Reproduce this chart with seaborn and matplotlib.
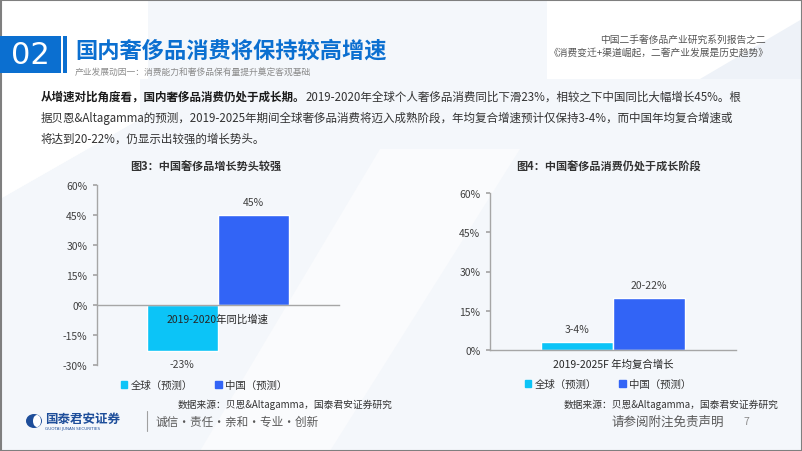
import matplotlib
matplotlib.use("Agg")
import matplotlib.pyplot as plt
import matplotlib.patches as mpatches
from matplotlib.patches import Polygon, Rectangle, Ellipse
import seaborn as sns
import pandas as pd

sns.set_theme(style="white")
plt.rcParams['font.family'] = ['Noto Sans CJK SC', 'DejaVu Sans']

# ---------------- data ----------------
series = ["全球（预测）", "中国（预测）"]
c1_category = ["2019-2020年同比增速"]
c1_values = [-23, 45]
c1_labels = ["-23%", "45%"]
c2_category = ["2019-2025F 年均复合增长"]
c2_values = [3, 20]
c2_labels = ["3-4%", "20-22%"]
c1_ticks = [-30, -15, 0, 15, 30, 45, 60]
c2_ticks = [0, 15, 30, 45, 60]

colors = ["#0CC4F7", "#3264F6"]
W, H = 802, 452
fig = plt.figure(figsize=(W / 100, H / 100), dpi=100)
fig.patch.set_facecolor("white")

def px(x, y):
    return x / W, 1 - y / H

# background decorations
bg = fig.add_axes([0, 0, 1, 1])
bg.set_xlim(0, W); bg.set_ylim(H, 0); bg.axis("off")
light = "#F4F7FB"
bg.add_patch(Polygon([[148, 0], [547, 0], [547, 80], [148, 80]], closed=True, color=light, lw=0))
bg.add_patch(Polygon([[140, 80], [802, 80], [802, 452], [0, 452], [0, 200], [140, 120]], closed=True, color=light, lw=0))
bg.add_patch(Polygon([[380, 150], [520, 150], [330, 452], [200, 452]], closed=True, color="#FAFBFD", lw=0))
bg.add_patch(Polygon([[0, 80], [140, 80], [140, 120], [0, 200]], closed=True, color="white", lw=0))
bg.add_patch(Polygon([[700, 80], [802, 20], [802, 80]], closed=True, color="#EEF2F8", lw=0))
# frame
bg.add_patch(Rectangle((0.5, 0.5), W - 1, H - 1, fill=False, ec="#7F7F7F", lw=1.5))

# header
bg.add_patch(Rectangle((0, 37), 61, 37, color="#0B6FD0", lw=0))
bg.add_patch(Rectangle((63, 37), 3.5, 37, color="#0B6FD0", lw=0))
fig.text(*px(30, 56), "02", color="white", fontsize=22, ha="center", va="center", family="DejaVu Sans")
fig.text(*px(75, 51), "国内奢侈品消费将保持较高增速", color="#0B6FD0", fontsize=16, fontweight="bold", ha="left", va="center")
fig.text(*px(75, 73), "产业发展动因一：消费能力和奢侈品保有量提升奠定客观基础", color="#8C8C8C", fontsize=6.3, ha="left", va="center")
fig.text(*px(766, 40), "中国二手奢侈品产业研究系列报告之二", color="#555555", fontsize=7, ha="right", va="center")
fig.text(*px(769, 53), "《消费变迁+渠道崛起，二奢产业发展是历史趋势》", color="#555555", fontsize=7, ha="right", va="center")

# paragraph
fs_p = 8.3
fig.canvas.draw()
r = fig.canvas.get_renderer()
t_b = fig.text(*px(41, 97), "从增速对比角度看，国内奢侈品消费仍处于成长期。", color="#1A1A1A", fontsize=fs_p, fontweight="bold", ha="left", va="center")
bb = t_b.get_window_extent(renderer=r)
fig.text(bb.x1 / W, 1 - 97 / H, "2019-2020年全球个人奢侈品消费同比下滑23%，相较之下中国同比大幅增长45%。根", color="#333333", fontsize=fs_p, ha="left", va="center")
fig.text(*px(41, 118), "据贝恩&Altagamma的预测，2019-2025年期间全球奢侈品消费将迈入成熟阶段，年均复合增速预计仅保持3-4%，而中国年均复合增速或", color="#333333", fontsize=fs_p, ha="left", va="center")
fig.text(*px(41, 139), "将达到20-22%，仍显示出较强的增长势头。", color="#333333", fontsize=fs_p, ha="left", va="center")

def make_chart(rect, cats, vals, labels, ticks, ylim, width, title, title_xy, leg_xy, src_xy, label_off):
    l, t, r_, b = rect
    ax = fig.add_axes([l / W, 1 - b / H, (r_ - l) / W, (b - t) / H])
    ax.patch.set_alpha(0)
    df = pd.DataFrame({"cat": cats * len(series), "series": series, "val": vals})
    sns.barplot(data=df, x="cat", y="val", hue="series", palette=colors, width=width,
                gap=0, saturation=1, ax=ax, legend=False)
    ax.set_axisbelow(False)
    ax.set_xlim(-0.5, 0.5)
    ax.set_ylim(*ylim)
    ax.set_yticks(ticks)
    ax.set_yticklabels([f"{v}%" for v in ticks])
    ax.set_xlabel(""); ax.set_ylabel("")
    for s in ["top", "right"]:
        ax.spines[s].set_visible(False)
    for s in ["left", "bottom"]:
        ax.spines[s].set_color("#A6A6A6"); ax.spines[s].set_linewidth(1)
    ax.spines["bottom"].set_position(("data", 0))
    ax.tick_params(axis="y", length=3, color="#A6A6A6", labelsize=7.5, labelcolor="#404040", pad=4, left=True)
    ax.tick_params(axis="x", length=0, labelsize=7.5, labelcolor="#262626", pad=6)
    for cont, lab in zip(ax.containers, labels):
        for bar in cont:
            v = bar.get_height()
            y = v + (label_off if v >= 0 else -label_off)
            ax.text(bar.get_x() + bar.get_width() / 2, y, lab, ha="center",
                    va="bottom" if v >= 0 else "top", fontsize=7.5, color="#404040")
    fig.text(*px(*title_xy), title, fontsize=8, fontweight="bold", color="#333333", ha="center", va="center")
    handles = [mpatches.Patch(color=c, label=s) for c, s in zip(colors, series)]
    fig.legend(handles=handles, loc="center", bbox_to_anchor=px(*leg_xy), ncol=2, frameon=False,
               fontsize=7.5, handlelength=0.6, handleheight=0.6, handletextpad=0.3, columnspacing=2.2,
               labelcolor="#333333")
    fig.text(*px(*src_xy), "数据来源：贝恩&Altagamma，国泰君安证券研究", fontsize=7, color="#333333", ha="right", va="center")
    return ax

make_chart((97, 186, 339, 366), c1_category, c1_values, c1_labels, c1_ticks, (-30, 60), 0.59,
           "图3：中国奢侈品增长势头较强", (206, 167), (204, 386), (392, 405), 4)
make_chart((490, 194, 736, 351), c2_category, c2_values, c2_labels, c2_ticks, (0, 60), 0.585,
           "图4：中国奢侈品消费仍处于成长阶段", (608, 167), (608, 385), (778, 405), 3)

# footer
bg.add_patch(Ellipse((34, 422), 16, 14, color="#1E4E9A", lw=0))
bg.add_patch(Ellipse((37, 422), 8, 12, color="white", lw=0))
fig.text(*px(45, 419), "国泰君安证券", fontsize=9, fontweight="bold", color="#1E4E9A", ha="left", va="center")
fig.text(*px(45, 429), "GUOTAI JUNAN SECURITIES", fontsize=3, color="#1E4E9A", ha="left", va="center", family="DejaVu Sans")
bg.plot([147, 147], [412, 432], color="#A0A0A0", lw=0.8)
fig.text(*px(156, 422), "诚信·责任·亲和·专业·创新", fontsize=8.4, color="#595959", ha="left", va="center")
fig.text(*px(724, 422), "请参阅附注免责声明", fontsize=9, color="#595959", ha="right", va="center")
fig.text(*px(746, 422), "7", fontsize=7.5, color="#8C8C8C", ha="center", va="center")

fig.savefig("out.png", dpi=100)
